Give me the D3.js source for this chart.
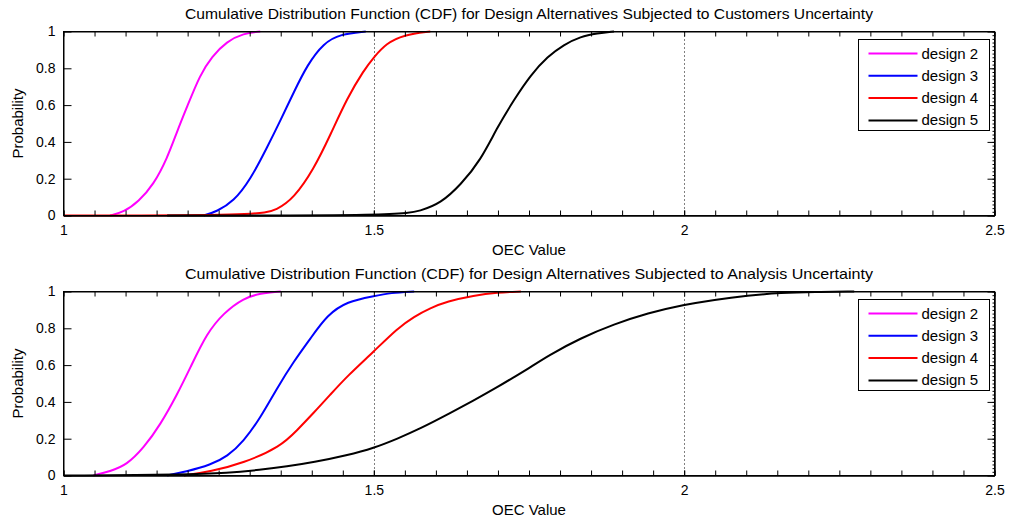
<!DOCTYPE html>
<html>
<head>
<meta charset="utf-8">
<script src="https://cdn.jsdelivr.net/npm/d3@7"></script>
<style>
  body { margin: 0; background: #fff; }
  text { font-family: "Liberation Sans", Arial, sans-serif; fill: #000; }
</style>
</head>
<body>
<script>
// tick values and labels
var oecTicks = [1, 1.5, 2, 2.5];
var probTicks = [0, 0.2, 0.4, 0.6, 0.8, 1];
var designNames = ["design 2", "design 3", "design 4", "design 5"];
var lineColors = ["#ff00ff", "#0000ff", "#ff0000", "#000000"];
var panelTitles = [
    "Cumulative Distribution Function (CDF) for Design Alternatives Subjected to Customers Uncertainty",
    "Cumulative Distribution Function (CDF) for Design Alternatives Subjected to Analysis Uncertainty"
];

// [OEC value, probability] -- customers uncertainty
var custDesign2 = [[1.075, 0], [1.097, 0.018], [1.121, 0.076], [1.145, 0.167], [1.167, 0.31], [1.183, 0.457],
    [1.199, 0.59], [1.22, 0.765], [1.239, 0.864], [1.263, 0.946], [1.29, 0.99], [1.317, 1]];
var custDesign3 = [[1.226, 0], [1.247, 0.022], [1.274, 0.076], [1.301, 0.194], [1.328, 0.37], [1.35, 0.52],
    [1.371, 0.67], [1.393, 0.82], [1.419, 0.937], [1.446, 0.986], [1.487, 1]];
var custDesign4 = [[1.0, 0], [1.315, 0], [1.344, 0.031], [1.371, 0.094], [1.403, 0.25], [1.43, 0.438],
    [1.457, 0.638], [1.484, 0.79], [1.5, 0.86], [1.52, 0.935], [1.548, 0.982], [1.591, 1]];
var custDesign5 = [[1.167, 0], [1.543, 0], [1.575, 0.025], [1.608, 0.067], [1.64, 0.167], [1.672, 0.3],
    [1.699, 0.48], [1.726, 0.63], [1.753, 0.765], [1.78, 0.864], [1.806, 0.928], [1.833, 0.973],
    [1.86, 0.99], [1.887, 1]];

// analysis uncertainty
var anaDesign2 = [[1.048, 0], [1.075, 0.022], [1.102, 0.058], [1.129, 0.149], [1.156, 0.276], [1.183, 0.439],
    [1.204, 0.584], [1.231, 0.774], [1.258, 0.883], [1.29, 0.964], [1.317, 0.99], [1.35, 1]];
var anaDesign3 = [[1.167, 0], [1.199, 0.022], [1.237, 0.058], [1.264, 0.103], [1.29, 0.185], [1.317, 0.312],
    [1.344, 0.475], [1.371, 0.62], [1.398, 0.745], [1.425, 0.873], [1.457, 0.946], [1.5, 0.975],
    [1.527, 0.993], [1.565, 1]];
var anaDesign4 = [[1.194, 0], [1.237, 0.022], [1.29, 0.067], [1.35, 0.158], [1.376, 0.245], [1.403, 0.34],
    [1.43, 0.44], [1.457, 0.54], [1.5, 0.674], [1.538, 0.8], [1.565, 0.864], [1.591, 0.91], [1.618, 0.946],
    [1.661, 0.978], [1.699, 0.995], [1.737, 1]];
var anaDesign5 = [[1.0, 0], [1.2, 0.004], [1.264, 0.013], [1.317, 0.031], [1.36, 0.049], [1.403, 0.072],
    [1.457, 0.11], [1.5, 0.149], [1.538, 0.2], [1.575, 0.255], [1.618, 0.33], [1.661, 0.408],
    [1.699, 0.48], [1.726, 0.535], [1.753, 0.59], [1.78, 0.65], [1.833, 0.747], [1.887, 0.822],
    [1.941, 0.883], [2.0, 0.928], [2.048, 0.955], [2.102, 0.978], [2.156, 0.993], [2.21, 0.998], [2.274, 1]];

var svgWidth = 1011;
var svgHeight = 523;
var panelShift = 260;

var svg = d3.select("body")
    .append("svg")
    .attr("width", svgWidth)
    .attr("height", svgHeight);

var x = d3.scaleLinear().domain([1, 2.5]).range([63.5, 994.5]);
var y = d3.scaleLinear().domain([0, 1]).range([215.5, 31.5]);

var line = d3.line()
    .x(d => x(d[0]))
    .y(d => y(d[1]))
    .curve(d3.curveBasis);

function drawPanel(index, title, seriesList) {
    var g = svg.append("g")
        .attr("transform", `translate(0, ${index * panelShift})`);

    // white plot area
    g.append("rect")
        .attr("x", x(1)).attr("y", y(1))
        .attr("width", x(2.5) - x(1)).attr("height", y(0) - y(1))
        .attr("fill", "#fff");

    // dotted grid on the inner x ticks
    g.selectAll(".grid")
        .data([1.5, 2])
        .enter()
        .append("line")
        .attr("x1", d => Math.round(x(d)) + 0.5).attr("x2", d => Math.round(x(d)) + 0.5)
        .attr("y1", y(1)).attr("y2", y(0))
        .attr("stroke", "#000")
        .attr("stroke-dasharray", "1,3");

    // curves
    seriesList.forEach(function(s, i) {
        g.append("path")
            .datum(s)
            .attr("d", line)
            .attr("fill", "none")
            .attr("stroke", lineColors[i])
            .attr("stroke-width", 2);
    });

    // minor ticks (MATLAB style, inward)
    var minorX = d3.range(1, 2.5001, 0.05);
    g.append("g")
        .attr("transform", `translate(0, ${y(0)})`)
        .call(d3.axisBottom(x).tickValues(minorX).tickSize(-5).tickSizeOuter(0).tickFormat(""));
    g.append("g")
        .attr("transform", `translate(0, ${y(1)})`)
        .call(d3.axisTop(x).tickValues(minorX).tickSize(-5).tickSizeOuter(0).tickFormat(""));
    g.append("g")
        .attr("transform", `translate(${x(2.5)}, 0)`)
        .call(d3.axisRight(y).tickValues(d3.range(0, 1.0001, 0.02)).tickSize(-2).tickSizeOuter(0).tickFormat(""));
    g.append("g")
        .attr("transform", `translate(${x(2.5)}, 0)`)
        .call(d3.axisRight(y).tickValues(probTicks).tickSize(-7).tickSizeOuter(0).tickFormat(""));

    // labelled axes
    g.append("g")
        .attr("transform", `translate(0, ${y(0)})`)
        .call(d3.axisBottom(x).tickValues(oecTicks).tickSize(-5).tickSizeOuter(0)
            .tickPadding(10).tickFormat(d3.format("")));
    g.append("g")
        .attr("transform", `translate(${x(1)}, 0)`)
        .call(d3.axisLeft(y).tickValues(probTicks).tickSize(-8).tickSizeOuter(0)
            .tickPadding(8).tickFormat(d3.format("")));
    g.selectAll(".tick text")
        .style("font-family", "'Liberation Sans', Arial, sans-serif")
        .style("font-size", "14px")
        .attr("fill", "#000");
    g.selectAll(".domain, .tick line").attr("stroke", "#000");

    // frame
    g.append("rect")
        .attr("x", x(1)).attr("y", y(1))
        .attr("width", x(2.5) - x(1)).attr("height", y(0) - y(1))
        .attr("fill", "none")
        .attr("stroke", "#000");

    // title and axis labels
    g.append("text")
        .attr("x", (x(1) + x(2.5)) / 2)
        .attr("y", 19)
        .attr("text-anchor", "middle")
        .style("font-size", "15px")
        .attr("textLength", 688)
        .attr("lengthAdjust", "spacingAndGlyphs")
        .text(title);

    g.append("text")
        .attr("x", (x(1) + x(2.5)) / 2)
        .attr("y", 255)
        .attr("text-anchor", "middle")
        .style("font-size", "15px")
        .text("OEC Value");

    g.append("text")
        .attr("transform", `translate(23, ${(y(0) + y(1)) / 2}) rotate(-90)`)
        .attr("text-anchor", "middle")
        .style("font-size", "15px")
        .text("Probability");

    // legend
    var legend = g.append("g")
        .attr("transform", "translate(858.5, 39.5)");
    legend.append("rect")
        .attr("width", 131).attr("height", 91)
        .attr("fill", "#fff")
        .attr("stroke", "#000");
    designNames.forEach(function(name, i) {
        var rowY = 14 + i * 22.3;
        legend.append("line")
            .attr("x1", 10).attr("x2", 59)
            .attr("y1", rowY).attr("y2", rowY)
            .attr("stroke", lineColors[i])
            .attr("stroke-width", 2);
        legend.append("text")
            .attr("x", 63)
            .attr("y", rowY + 5)
            .style("font-size", "15px")
            .text(name);
    });
}

drawPanel(0, panelTitles[0], [custDesign2, custDesign3, custDesign4, custDesign5]);
drawPanel(1, panelTitles[1], [anaDesign2, anaDesign3, anaDesign4, anaDesign5]);
</script>
</body>
</html>
